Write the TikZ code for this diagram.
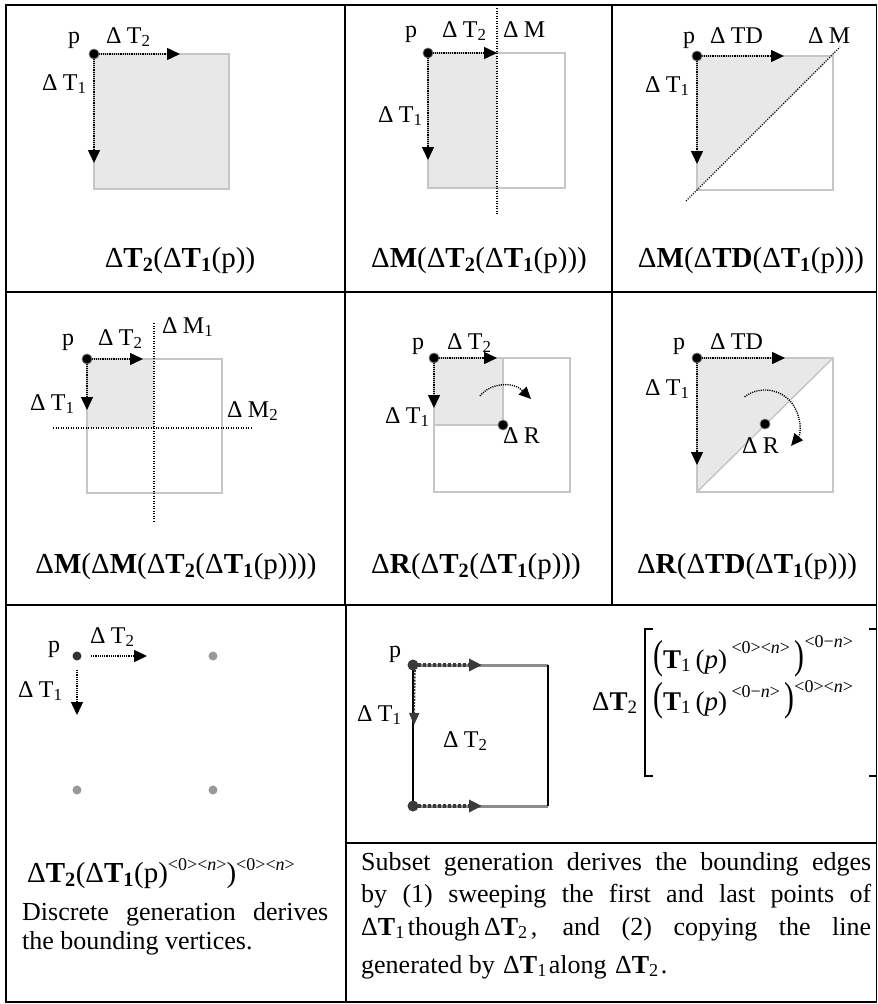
\documentclass[tikz,border=0pt]{standalone}
\usepackage{fontspec}
\usepackage{graphicx}
\setmainfont{Liberation Serif}
\usetikzlibrary{arrows.meta,calc}
\definecolor{cellfill}{HTML}{E8E8E8}
\definecolor{edgegray}{HTML}{C6C6C6}
\definecolor{darkg}{HTML}{3A3A3A}
\definecolor{midg}{HTML}{8C8C8C}
\newcommand\subs[1]{\textsubscript{#1}}
\newcommand\lD{Δ\hspace{0.22em}}
\tikzset{
  grid/.style={line width=1.8pt, black},
  sq/.style={draw=edgegray, line width=1.5pt},
  arr/.style={line width=1.4pt, dash pattern=on 1.1pt off 1.1pt, -{Triangle[length=13pt,width=12pt]}},
  rotarr/.style={line width=1.4pt, dash pattern=on 1.1pt off 1.1pt, -{Triangle[length=12pt,width=11pt]}},
  mline/.style={line width=1.1pt, dash pattern=on 1.1pt off 1.4pt},
  pdot/.style={circle, fill=black, draw=black!55, line width=0.8pt, inner sep=0pt, minimum size=10pt},
  gdot/.style={circle, fill=black!40, inner sep=0pt, minimum size=9pt},
  lbl/.style={font=\fontsize{24}{26}\selectfont, inner sep=0pt, anchor=base west},
  captxt/.style={font=\fontsize{29}{32}\selectfont, inner sep=0pt, anchor=base},
  body/.style={font=\fontsize{26}{30}\selectfont, inner sep=0pt, anchor=base west},
  mat/.style={font=\fontsize{27}{30}\selectfont, inner sep=0pt, anchor=base west},
  thick edge/.style={line width=3pt, midg},
  dash edge/.style={line width=3.5pt, darkg, dash pattern=on 3pt off 2pt, -{Triangle[length=13pt,width=12pt]}},
  solid edge/.style={line width=2.4pt, black},
}
\begin{document}
\begin{tikzpicture}[x=1pt,y=-1pt]
\useasboundingbox (0,0) rectangle (878,1004);
% ---------- grid ----------
\draw[grid] (6,5) rectangle (876.5,1002);
\draw[grid] (6,292) -- (876.5,292);
\draw[grid] (6,605) -- (876.5,605);
\draw[grid] (346,843) -- (876.5,843);
\draw[grid] (345,5) -- (345,605);
\draw[grid] (612,5) -- (612,605);
\draw[grid] (346,605) -- (346,1002);

% ---------- cell 1,1 ----------
\coordinate (a-p) at (94,54);
\coordinate (a-t2) at (180,54);
\coordinate (a-t1) at (94,163);
\fill[cellfill] (94,54) rectangle (229,189);
\draw[sq] (94,54) rectangle (229,189);
\draw[arr] (a-p) -- (a-t2);
\draw[arr] (a-p) -- (a-t1);
\node[pdot] (a-dot) at (a-p) {};
\node[lbl] (a-lp) at (68,43) {p};
\node[lbl] (a-lt2) at (106,43) {\lD T\subs{2}};
\node[lbl] (a-lt1) at (42,90) {\lD T\subs{1}};
\node[captxt] (a-cap) at (180,267) {Δ\textbf{T\subs{2}}(Δ\textbf{T\subs{1}}(p))};

% ---------- cell 1,2 ----------
\coordinate (b-p) at (428,53);
\coordinate (b-t2) at (497,53);
\coordinate (b-t1) at (428,160);
\coordinate (b-m1) at (497,8);
\coordinate (b-m2) at (497,215);
\fill[cellfill] (428,53) rectangle (497,188);
\draw[sq] (428,53) rectangle (565,188);
\draw[mline] (b-m1) -- (b-m2);
\draw[arr] (b-p) -- (b-t2);
\draw[arr] (b-p) -- (b-t1);
\node[pdot] (b-dot) at (b-p) {};
\node[lbl] (b-lp) at (405,37) {p};
\node[lbl] (b-lt2) at (442,37) {\lD T\subs{2}};
\node[lbl] (b-lm) at (503,37) {\lD M};
\node[lbl] (b-lt1) at (378,122) {\lD T\subs{1}};
\node[captxt] (b-cap) at (479,267) {Δ\textbf{M}(Δ\textbf{T\subs{2}}(Δ\textbf{T\subs{1}}(p)))};

% ---------- cell 1,3 ----------
\coordinate (c-p) at (697,56);
\coordinate (c-td) at (784,56);
\coordinate (c-t1) at (697,164);
\coordinate (c-m1) at (686,201);
\coordinate (c-m2) at (840,47);
\fill[cellfill] (697,56) -- (833,56) -- (697,190) -- cycle;
\draw[sq] (697,56) rectangle (833,190);
\draw[mline] (c-m1) -- (c-m2);
\draw[arr] (c-p) -- (c-td);
\draw[arr] (c-p) -- (c-t1);
\node[pdot] (c-dot) at (c-p) {};
\node[lbl] (c-lp) at (683,43) {p};
\node[lbl] (c-ltd) at (710,43) {\lD TD};
\node[lbl] (c-lm) at (808,43) {\lD M};
\node[lbl] (c-lt1) at (645,92) {\lD T\subs{1}};
\node[captxt] (c-cap) at (751,267) {Δ\textbf{M}(Δ\textbf{TD}(Δ\textbf{T\subs{1}}(p)))};

% ---------- cell 2,1 ----------
\coordinate (d-p) at (87,359);
\coordinate (d-t2) at (143,359);
\coordinate (d-t1) at (87,410);
\coordinate (d-v1) at (154,323);
\coordinate (d-v2) at (154,522);
\coordinate (d-h1) at (53,428);
\coordinate (d-h2) at (252,428);
\fill[cellfill] (87,359) rectangle (154,428);
\draw[sq] (87,359) rectangle (222,493);
\draw[mline] (d-v1) -- (d-v2);
\draw[mline] (d-h1) -- (d-h2);
\draw[arr] (d-p) -- (d-t2);
\draw[arr] (d-p) -- (d-t1);
\node[pdot] (d-dot) at (d-p) {};
\node[lbl] (d-lp) at (62,345) {p};
\node[lbl] (d-lt2) at (98,345) {\lD T\subs{2}};
\node[lbl] (d-lm1) at (162,333) {\lD M\subs{1}};
\node[lbl] (d-lt1) at (30,410) {\lD T\subs{1}};
\node[lbl] (d-lm2) at (227,417) {\lD M\subs{2}};
\node[captxt] (d-cap) at (176,573) {Δ\textbf{M}(Δ\textbf{M}(Δ\textbf{T\subs{2}}(Δ\textbf{T\subs{1}}(p))))};

% ---------- cell 2,2 ----------
\coordinate (e-p) at (434,358);
\coordinate (e-t2) at (497,358);
\coordinate (e-t1) at (434,408);
\coordinate (e-r) at (503,425);
\coordinate (e-a1) at (480,396);
\coordinate (e-a2) at (531,399);
\fill[cellfill] (434,358) rectangle (503,425);
\draw[sq] (434,358) rectangle (570,492);
\draw[sq] (434,358) rectangle (503,425);
\draw[arr] (e-p) -- (e-t2);
\draw[arr] (e-p) -- (e-t1);
\draw[rotarr] (e-a1) .. controls (490,383) and (513,381) .. (e-a2);
\node[pdot] (e-dot) at (e-p) {};
\node[pdot] (e-rdot) at (e-r) {};
\node[lbl] (e-lp) at (412,349) {p};
\node[lbl] (e-lt2) at (447,349) {\lD T\subs{2}};
\node[lbl] (e-lt1) at (385,423) {\lD T\subs{1}};
\node[lbl] (e-lr) at (503,443) {\lD R};
\node[captxt] (e-cap) at (476,573) {Δ\textbf{R}(Δ\textbf{T\subs{2}}(Δ\textbf{T\subs{1}}(p)))};

% ---------- cell 2,3 ----------
\coordinate (f-p) at (697,358);
\coordinate (f-td) at (785,358);
\coordinate (f-t1) at (697,465);
\coordinate (f-r) at (765,424);
\fill[cellfill] (697,358) -- (833,358) -- (697,492) -- cycle;
\draw[sq] (697,358) rectangle (833,492);
\draw[sq] (697,492) -- (833,358);
\draw[arr] (f-p) -- (f-td);
\draw[arr] (f-p) -- (f-t1);
\draw[rotarr] ($(f-r)+(-127:34)$) arc[start angle=-127, end angle=40, radius=34];
\node[pdot] (f-rdot) at (f-r) {};
\node[pdot] (f-dot) at (f-p) {};
\node[lbl] (f-lp) at (673,349) {p};
\node[lbl] (f-ltd) at (710,349) {\lD TD};
\node[lbl] (f-lt1) at (645,395) {\lD T\subs{1}};
\node[lbl] (f-lr) at (742,453) {\lD R};
\node[captxt] (f-cap) at (747,573) {Δ\textbf{R}(Δ\textbf{TD}(Δ\textbf{T\subs{1}}(p)))};

% ---------- cell 3,1 ----------
\coordinate (g-t2s) at (91,656);
\coordinate (g-t2e) at (147,656);
\coordinate (g-t1s) at (77,670);
\coordinate (g-t1e) at (77,715);
\draw[arr] (g-t2s) -- (g-t2e);
\draw[arr] (g-t1s) -- (g-t1e);
\node[gdot, fill=black!80] (g-p) at (77,656) {};
\node[gdot] (g-q1) at (213,656) {};
\node[gdot] (g-q2) at (77,790) {};
\node[gdot] (g-q3) at (213,790) {};
\node[lbl] (g-lp) at (48,652) {p};
\node[lbl] (g-lt2) at (90,643) {\lD T\subs{2}};
\node[lbl] (g-lt1) at (18,697) {\lD T\subs{1}};
\node[body, font=\fontsize{29}{32}\selectfont] (g-form) at (27,882)
  {Δ\textbf{T\subs{2}}(Δ\textbf{T\subs{1}}(p)\raisebox{12pt}{\fontsize{18}{18}\selectfont<0><\textit{n}>})\raisebox{12pt}{\fontsize{18}{18}\selectfont<0><\textit{n}>}};
\node[body] (g-txt1) at (22,920) {\makebox[306pt][s]{Discrete generation derives}};
\node[body] (g-txt2) at (22,949) {the bounding vertices.};

% ---------- cell 3,2 ----------
\coordinate (h-p) at (413,665);
\coordinate (h-q) at (413,806);
\coordinate (h-r1) at (548,665);
\coordinate (h-r2) at (548,806);
\coordinate (h-a1) at (482,665);
\coordinate (h-a2) at (482,806);
\coordinate (h-t1) at (414,725);
\draw[thick edge] (h-p) -- (h-r1);
\draw[thick edge] (h-q) -- (h-r2);
\draw[solid edge] (h-p) -- (h-q);
\draw[solid edge, line width=2pt] (h-r1) -- (h-r2);
\draw[dash edge] (h-p) -- (h-a1);
\draw[dash edge] (h-q) -- (h-a2);
\draw[line width=1.6pt, darkg, dash pattern=on 2pt off 1.2pt, -{Triangle[length=12pt,width=10pt]}] (415,670) -- (h-t1);
\node[gdot, fill=darkg, minimum size=11pt] (h-dp) at (h-p) {};
\node[gdot, fill=darkg, minimum size=11pt] (h-dq) at (h-q) {};
\node[lbl] (h-lp) at (389,657) {p};
\node[lbl] (h-lt1) at (357,721) {\lD T\subs{1}};
\node[lbl] (h-lt2) at (443,747) {\lD T\subs{2}};
% matrix
\node[mat] (m-lab) at (592,710) {Δ\textbf{T}\subs{2}};
\draw[line width=1.4pt] (653,629) -- (645,629) -- (645,776) -- (653,776);
\draw[line width=1.4pt] (869,629) -- (876,629);
\draw[line width=1.4pt] (869,776) -- (876,776);
\node[mat] (m-r1) at (653,668) {\scalebox{1.1}[1.5]{(}\textbf{T}\subs{1}\,(\textit{p})\,\raisebox{15pt}{\fontsize{18}{18}\selectfont<0><\textit{n}>}\,\scalebox{1.1}[1.5]{)}\raisebox{21pt}{\fontsize{18}{18}\selectfont<0−\textit{n}>}};
\node[mat] (m-r2) at (653,710) {\scalebox{1.1}[1.5]{(}\textbf{T}\subs{1}\,(\textit{p})\,\raisebox{13pt}{\fontsize{18}{18}\selectfont<0−\textit{n}>}\,\scalebox{1.1}[1.5]{)}\raisebox{18pt}{\fontsize{18}{18}\selectfont<0><\textit{n}>}};

% ---------- cell 3,2 text ----------
\node[body] (i-l1) at (361,870) {\makebox[510pt][s]{Subset generation derives the bounding edges}};
\node[body] (i-l2) at (361,902) {\makebox[510pt][s]{by (1) sweeping the first and last points of}};
\node[body] (i-l3) at (361,935) {\makebox[510pt][s]{Δ\textbf{T}\subs{1}\hspace{3pt}though\hspace{4pt}Δ\textbf{T}\subs{2}\hspace{3pt}, and (2) copying the line}};
\node[body] (i-l4) at (361,973) {generated by \hspace{2pt}Δ\textbf{T}\subs{1}\hspace{2pt}along \hspace{2pt}Δ\textbf{T}\subs{2}\hspace{2pt}.};
\end{tikzpicture}
\end{document}
